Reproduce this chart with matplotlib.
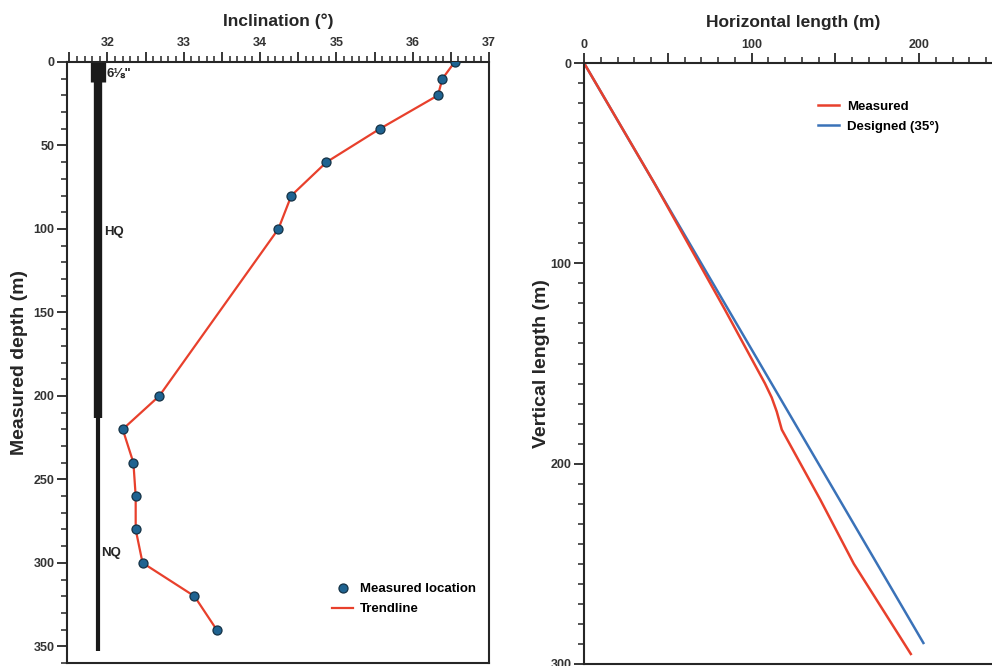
import numpy as np
import matplotlib.pyplot as plt
from matplotlib.ticker import MultipleLocator, FuncFormatter

plt.rcParams['font.family'] = ['Liberation Sans', 'DejaVu Sans']
plt.rcParams['font.weight'] = 'bold'

# --- left panel: inclination vs measured depth ---
depth = [0, 10, 20, 40, 60, 80, 100, 200, 220, 240, 260, 280, 300, 320, 340]
inclination = [36.55, 36.39, 36.33, 35.57, 34.87, 34.41, 34.24, 32.68,
               32.20, 32.34, 32.37, 32.37, 32.46, 33.14, 33.43]

# casing sections (top, bottom depth) and labels
casing_names = ['6⅛"', 'HQ', 'NQ']
casing_top = [0, 12, 213]
casing_bottom = [12, 213, 353]
casing_label_depth = [7, 102, 294]

# --- right panel: trajectory ---
meas_h = [0, 42, 84, 108, 112, 115, 118, 141, 161, 195]
meas_v = [0, 60, 123, 160, 167, 174, 183, 218, 250, 295]
design_h = [0, 202.5]
design_v = [0, 289.5]

RED = "#e8402c"
BLUE = "#3a72b8"
DARK = "#262626"

fig = plt.figure(figsize=(9.92, 6.66), dpi=100)
ax1 = fig.add_axes([67 / 992, 1 - 663 / 666, 422 / 992, 601 / 666])
ax2 = fig.add_axes([584 / 992, 1 - 664 / 666, 419 / 992, 601 / 666])

# casing column
casing_x = 31.87
casing_lw = [11, 6, 3]
for top, bot, lw in zip(casing_top, casing_bottom, casing_lw):
    ax1.plot([casing_x, casing_x], [top, bot], color="#1a1a1a", lw=lw,
             solid_capstyle='butt', zorder=2)
label_x = [31.99, 31.96, 31.92]
for name, lx, d in zip(casing_names, label_x, casing_label_depth):
    ax1.text(lx, d, name, fontsize=9.5, fontweight='bold', color=DARK,
             va='center', ha='left')

ax1.plot(inclination, depth, color=RED, lw=1.6, label="Trendline", zorder=3)
ax1.plot(inclination, depth, ls='none', marker='o', ms=6.5,
         mfc="#1f6391", mec="#143246", mew=0.9, label="Measured location", zorder=4)

ax1.set_xlim(31.47, 37.0)
ax1.set_ylim(360, 0)
ax1.xaxis.set_label_position('top')
ax1.xaxis.tick_top()
ax1.set_xlabel("Inclination (°)", fontsize=12.5, fontweight='bold', color=DARK, labelpad=8)
ax1.set_ylabel("Measured depth (m)", fontsize=14, fontweight='bold', color=DARK, labelpad=4)
ax1.xaxis.set_major_locator(MultipleLocator(0.5))
ax1.xaxis.set_minor_locator(MultipleLocator(0.1))
ax1.xaxis.set_major_formatter(FuncFormatter(lambda v, p: f"{v:.0f}" if abs(v - round(v)) < 1e-6 else ""))
ax1.yaxis.set_major_locator(MultipleLocator(50))
ax1.yaxis.set_minor_locator(MultipleLocator(10))

h, l = ax1.get_legend_handles_labels()
ax1.legend([h[1], h[0]], [l[1], l[0]], loc='upper left', bbox_to_anchor=(0.6, 0.153),
           frameon=False, handlelength=1.6, handletextpad=0.5,
           labelspacing=0.6, prop={'weight': 'bold', 'size': 9.5})

# right panel
ax2.plot(design_h, design_v, color=BLUE, lw=1.8, label="Designed (35°)")
ax2.plot(meas_h, meas_v, color=RED, lw=1.8, label="Measured")
ax2.set_xlim(0, 250)
ax2.set_ylim(300, 0)
ax2.xaxis.set_label_position('top')
ax2.xaxis.tick_top()
ax2.set_xlabel("Horizontal length (m)", fontsize=12.5, fontweight='bold', color=DARK, labelpad=8)
ax2.set_ylabel("Vertical length (m)", fontsize=14, fontweight='bold', color=DARK, labelpad=0)
ax2.xaxis.set_major_locator(MultipleLocator(50))
ax2.xaxis.set_minor_locator(MultipleLocator(10))
ax2.xaxis.set_major_formatter(FuncFormatter(lambda v, p: f"{v:.0f}" if v % 100 == 0 else ""))
ax2.yaxis.set_major_locator(MultipleLocator(100))
ax2.yaxis.set_minor_locator(MultipleLocator(10))
ax2.spines['right'].set_visible(False)

h, l = ax2.get_legend_handles_labels()
ax2.legend([h[1], h[0]], [l[1], l[0]], loc='upper left', bbox_to_anchor=(0.53, 0.957),
           frameon=False, handlelength=1.6, handletextpad=0.6,
           labelspacing=0.6, prop={'weight': 'bold', 'size': 9.5})

for ax in (ax1, ax2):
    for s in ax.spines.values():
        s.set_linewidth(1.5)
        s.set_color(DARK)
    ax.tick_params(which='major', length=7, width=1.3, colors=DARK, labelsize=9, pad=2)
    ax.tick_params(which='minor', length=4, width=1.1, colors=DARK)
    for t in ax.get_xticklabels() + ax.get_yticklabels():
        t.set_fontweight('bold')
        t.set_color("#333333")

fig.savefig("out.png", dpi=100)
